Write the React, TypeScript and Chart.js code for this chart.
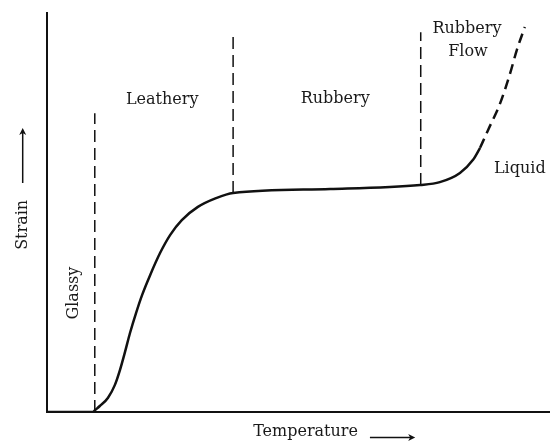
import React, { useEffect, useRef } from "react";
import { Chart, registerables } from "chart.js";

Chart.register(...registerables);

// Strain vs temperature curve (solid part)
const solidX = [0, 9.15, 9.5, 10.5, 12.1, 13.5, 14.5, 15.5, 16.5, 17.7, 18.9, 20.5, 22.5, 24.5, 26.8, 30.0, 33.6, 37.0, 56.3, 74.2, 78.1, 82.1, 84.7, 86.1];
const solidY = [0, 0, 0.4, 1.5, 3.5, 6.8, 10.5, 15.0, 19.8, 24.8, 29.3, 34.3, 39.9, 44.4, 48.1, 51.4, 53.6, 54.9, 55.9, 56.9, 57.6, 59.9, 63.2, 66.2];

// Dashed continuation (rubbery flow -> liquid)
const flowX = [86.1, 87.7, 90.1, 92.1, 93.4, 95.0];
const flowY = [66.2, 70.7, 77.4, 85.0, 90.7, 96.5];

// Region boundaries (dashed verticals)
const boundaryX = [9.5, 37.0, 74.3];
const boundaryBottom = [0, 54.9, 56.9];
const boundaryTop = [74.9, 95.0, 95.2];

// Region labels
const regionLabels = ["Leathery", "Rubbery", "Rubbery", "Flow", "Liquid"];
const regionLabelX = [22.9, 57.3, 83.5, 83.7, 94.0];
const regionLabelY = [77.2, 77.4, 95.1, 89.2, 59.9];
const glassyLabel = "Glassy";
const glassyX = 6.2;
const glassyY = 29.8;

const xTitle = "Temperature";
const yTitle = "Strain";

const FONT = '16px "DejaVu Serif"';
const TEXT = "#1a1a1a";
const INK = "#111";

const labelPlugin = {
  id: "labels",
  afterDatasetsDraw(chart: any) {
    const { ctx, chartArea } = chart;
    const xs = chart.scales.x;
    const ys = chart.scales.y;
    ctx.save();
    ctx.font = FONT;
    ctx.fillStyle = TEXT;
    ctx.textAlign = "center";
    ctx.textBaseline = "alphabetic";
    regionLabels.forEach((t, i) => {
      ctx.fillText(t, xs.getPixelForValue(regionLabelX[i]), ys.getPixelForValue(regionLabelY[i]));
    });
    // Glassy rotated
    ctx.save();
    ctx.translate(xs.getPixelForValue(glassyX), ys.getPixelForValue(glassyY));
    ctx.rotate(-Math.PI / 2);
    ctx.fillText(glassyLabel, 0, 0);
    ctx.restore();

    // X title + arrow
    const tx = xs.getPixelForValue(51.4);
    ctx.fillText(xTitle, tx, chartArea.bottom + 24);
    const ax1 = xs.getPixelForValue(64.2);
    const ax2 = xs.getPixelForValue(73.2);
    const ay = chartArea.bottom + 25.5;
    ctx.strokeStyle = INK;
    ctx.lineWidth = 1.5;
    ctx.beginPath();
    ctx.moveTo(ax1, ay);
    ctx.lineTo(ax2 - 4, ay);
    ctx.stroke();
    ctx.fillStyle = INK;
    ctx.beginPath();
    ctx.moveTo(ax2, ay);
    ctx.lineTo(ax2 - 7, ay - 3.5);
    ctx.lineTo(ax2 - 5, ay);
    ctx.lineTo(ax2 - 7, ay + 3.5);
    ctx.closePath();
    ctx.fill();

    // Y title + arrow
    ctx.fillStyle = TEXT;
    ctx.save();
    ctx.translate(chartArea.left - 20.5, ys.getPixelForValue(46.9));
    ctx.rotate(-Math.PI / 2);
    ctx.fillText(yTitle, 0, 0);
    ctx.restore();
    const bx = chartArea.left - 24.3;
    const by1 = ys.getPixelForValue(57.4);
    const by2 = ys.getPixelForValue(71.2);
    ctx.beginPath();
    ctx.moveTo(bx, by1);
    ctx.lineTo(bx, by2 + 4);
    ctx.stroke();
    ctx.fillStyle = INK;
    ctx.beginPath();
    ctx.moveTo(bx, by2);
    ctx.lineTo(bx - 3.5, by2 + 7);
    ctx.lineTo(bx, by2 + 5);
    ctx.lineTo(bx + 3.5, by2 + 7);
    ctx.closePath();
    ctx.fill();
    ctx.restore();
  },
};

export default function App() {
  const ref = useRef<HTMLCanvasElement | null>(null);
  useEffect(() => {
    if (!ref.current) return;
    const boundarySets = boundaryX.map((bx, i) => ({
      data: [
        { x: bx, y: boundaryBottom[i] },
        { x: bx, y: boundaryTop[i] },
      ],
      showLine: true,
      borderColor: INK,
      borderWidth: 1.5,
      borderDash: [12, 6],
      pointRadius: 0,
      fill: false,
    }));
    const chart = new Chart(ref.current, {
      type: "scatter",
      data: {
        datasets: [
          {
            data: solidX.map((x, i) => ({ x, y: solidY[i] })),
            showLine: true,
            borderColor: INK,
            borderWidth: 2.5,
            pointRadius: 0,
            cubicInterpolationMode: "monotone",
            fill: false,
          },
          {
            data: flowX.map((x, i) => ({ x, y: flowY[i] })),
            showLine: true,
            borderColor: INK,
            borderWidth: 2.5,
            borderDash: [10, 6],
            pointRadius: 0,
            cubicInterpolationMode: "monotone",
            fill: false,
          },
          ...boundarySets,
        ] as any,
      },
      options: {
        animation: false,
        responsive: false,
        devicePixelRatio: 1,
        layout: { padding: { left: 47, top: 13, right: 0, bottom: 31 } },
        plugins: { legend: { display: false }, tooltip: { enabled: false } },
        events: [],
        scales: {
          x: {
            type: "linear",
            min: 0,
            max: 100,
            grid: { display: false, drawTicks: false },
            ticks: { display: false },
            border: { display: true, color: INK, width: 2 },
          },
          y: {
            type: "linear",
            min: 0,
            max: 100,
            grid: { display: false, drawTicks: false },
            ticks: { display: false },
            border: { display: true, color: INK, width: 2 },
          },
        },
      } as any,
      plugins: [labelPlugin],
    });
    return () => chart.destroy();
  }, []);
  return (
    <div style={{ position: "absolute", left: 0, top: 0, width: 550, height: 443, background: "#fff" }}>
      <canvas ref={ref} width={550} height={443} style={{ display: "block" }} />
    </div>
  );
}
